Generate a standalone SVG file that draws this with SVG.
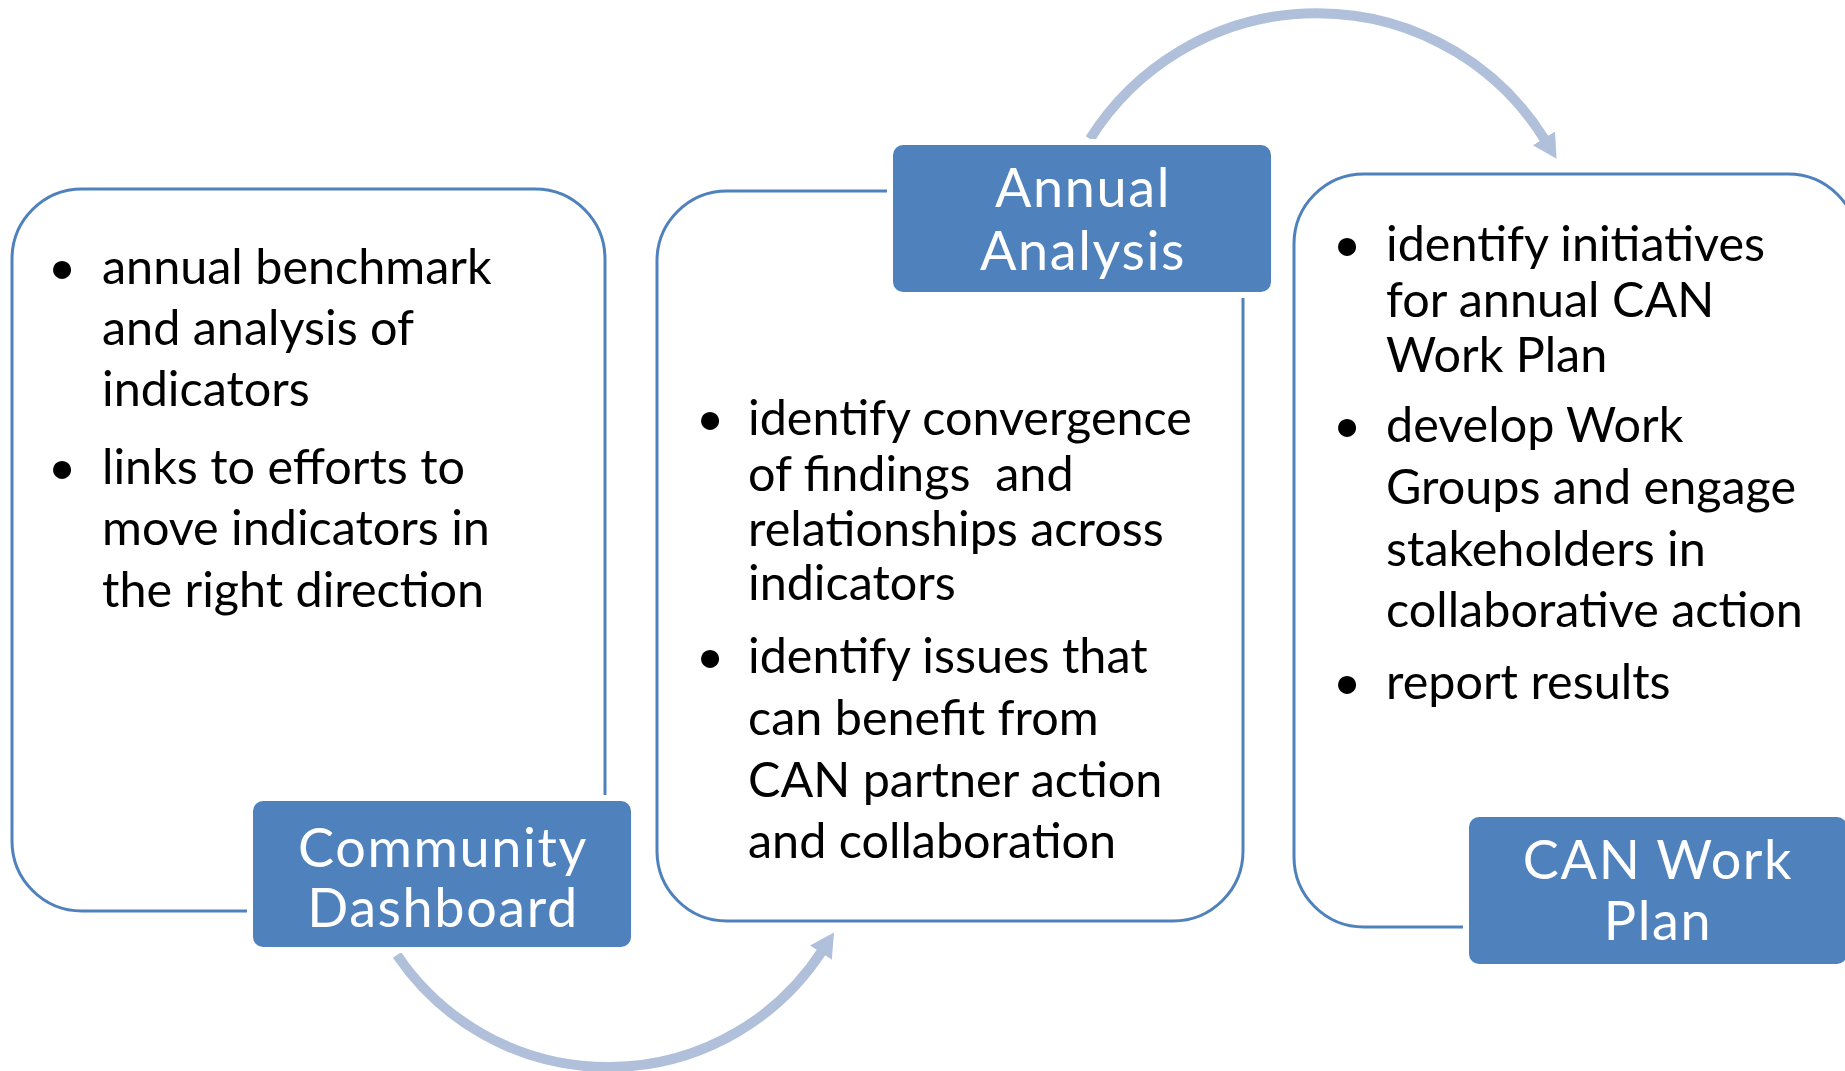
<svg xmlns="http://www.w3.org/2000/svg" width="1845" height="1071" viewBox="0 0 1845 1071">
<defs>
<style>
.box{fill:#fff;stroke:#4F81BD;stroke-width:3}
.lbl{fill:#4F81BD;stroke:#fff;stroke-width:6}
.lt{font-family:Lato,"Open Sans",sans-serif;font-size:54px;letter-spacing:1.6px;fill:#fff;text-anchor:middle}
.bt{font-family:Lato,"Open Sans",sans-serif;font-size:48.5px;fill:#000;white-space:pre}
.bu{font-family:Lato,"Open Sans",sans-serif;font-size:48.5px;fill:#000;text-anchor:middle}
.arc{fill:none;stroke:#B0C0DB;stroke-width:10}
</style>
<marker id="ah" markerUnits="userSpaceOnUse" markerWidth="30" markerHeight="30" refX="2" refY="13" orient="auto">
<path d="M0,0 L24,13 L0,26 z" fill="#B0C0DB"/>
</marker>
</defs>
<g id="connectors">
<path class="arc" d="M397,955 A255,255 0 0 0 822,951" marker-end="url(#ah)"/>
<path class="arc" d="M1090,139 A268,268 0 0 1 1545,140" marker-end="url(#ah)"/>
</g>
<g id="community-dashboard">
<rect class="box" x="12" y="189" width="593" height="722" rx="70"/>
<text class="bu" x="62" y="284">•</text>
<text class="bt" x="102" y="284"><tspan x="102" y="284">annual benchmark</tspan><tspan x="102" y="345">and analysis of</tspan><tspan x="102" y="406">indicators</tspan></text>
<text class="bu" x="62" y="484">•</text>
<text class="bt" x="102" y="484"><tspan x="102" y="484">links to efforts to</tspan><tspan x="102" y="545">move indicators in</tspan><tspan x="102" y="607">the right direction</tspan></text>
<rect class="lbl" x="250" y="798" width="384" height="152" rx="13"/>
<text class="lt" x="443" y="867"><tspan x="443" y="867">Community</tspan><tspan x="443" y="927">Dashboard</tspan></text>
</g>
<g id="annual-analysis">
<rect class="box" x="657" y="191" width="586" height="730" rx="70"/>
<text class="bu" x="710" y="435">•</text>
<text class="bt" x="748" y="435"><tspan x="748" y="435">identify convergence</tspan><tspan x="748" y="491">of findings  and</tspan><tspan x="748" y="546">relationships across</tspan><tspan x="748" y="600">indicators</tspan></text>
<text class="bu" x="710" y="673">•</text>
<text class="bt" x="748" y="673"><tspan x="748" y="673">identify issues that</tspan><tspan x="748" y="735">can benefit from</tspan><tspan x="748" y="797">CAN partner action</tspan><tspan x="748" y="858">and collaboration</tspan></text>
<rect class="lbl" x="890" y="142" width="384" height="153" rx="13"/>
<text class="lt" x="1083" y="207"><tspan x="1083" y="207">Annual</tspan><tspan x="1083" y="270">Analysis</tspan></text>
</g>
<g id="can-work-plan">
<rect class="box" x="1294" y="174" width="564" height="753" rx="70"/>
<text class="bu" x="1347" y="261">•</text>
<text class="bt" x="1386" y="261"><tspan x="1386" y="261">identify initiatives</tspan><tspan x="1386" y="317">for annual CAN</tspan><tspan x="1386" y="372">Work Plan</tspan></text>
<text class="bu" x="1347" y="442">•</text>
<text class="bt" x="1386" y="442"><tspan x="1386" y="442">develop Work</tspan><tspan x="1386" y="504">Groups and engage</tspan><tspan x="1386" y="566">stakeholders in</tspan><tspan x="1386" y="627">collaborative action</tspan></text>
<text class="bu" x="1347" y="699">•</text>
<text class="bt" x="1386" y="699">report results</text>
<rect class="lbl" x="1466" y="814" width="384" height="153" rx="13"/>
<text class="lt" x="1658" y="879"><tspan x="1658" y="879">CAN Work</tspan><tspan x="1658" y="940">Plan</tspan></text>
</g>
</svg>
